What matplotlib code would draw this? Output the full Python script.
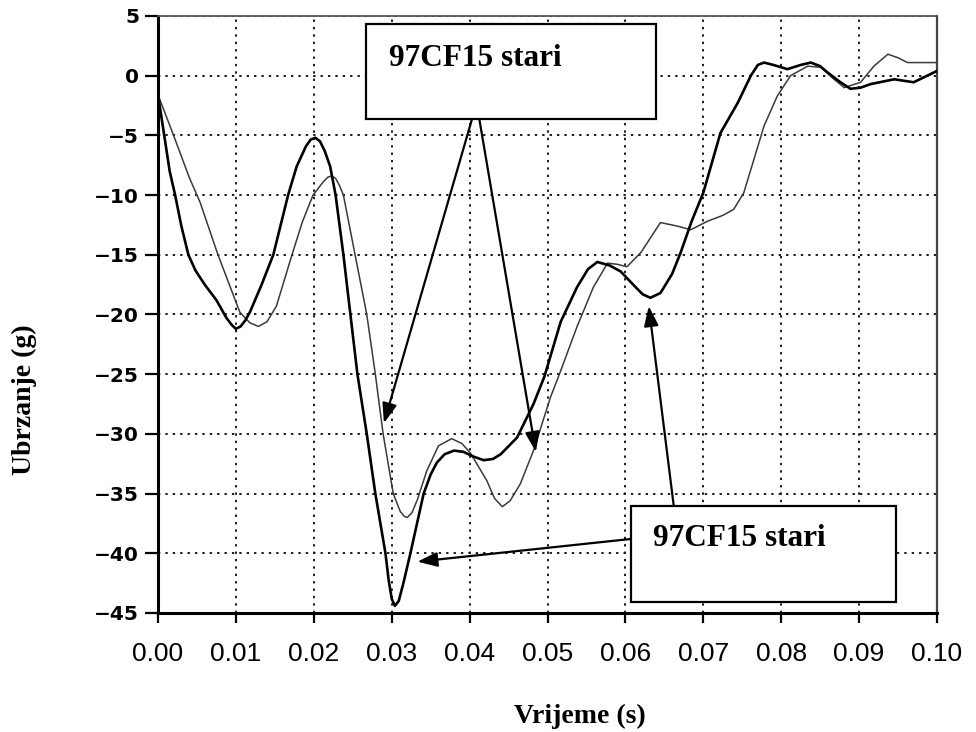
import matplotlib
matplotlib.use("Agg")
import matplotlib.pyplot as plt
from matplotlib.patches import Rectangle

# ---------------- data ----------------
t_solid = [0.0000, 0.0008, 0.0015, 0.0022, 0.0030, 0.0039, 0.0048, 0.0060, 0.0075, 0.0088,
           0.0095, 0.0100, 0.0106, 0.0112, 0.0118, 0.0133, 0.0148, 0.0167, 0.0178, 0.0190,
           0.0196, 0.0202, 0.0208, 0.0214, 0.0221, 0.0228, 0.0238, 0.0247, 0.0256, 0.0268,
           0.0279, 0.0292, 0.0296, 0.0300, 0.0304, 0.0309, 0.0315, 0.0324, 0.0341, 0.0350,
           0.0358, 0.0368, 0.0380, 0.0392, 0.0405, 0.0418, 0.0430, 0.0440, 0.0461, 0.0482,
           0.0496, 0.0517, 0.0538, 0.0552, 0.0564, 0.0580, 0.0594, 0.0610, 0.0622, 0.0632,
           0.0645, 0.0660, 0.0671, 0.0685, 0.0700, 0.0722, 0.0744, 0.0761, 0.0770, 0.0778,
           0.0790, 0.0808, 0.0825, 0.0838, 0.0850, 0.0859, 0.0875, 0.0889, 0.0902, 0.0915,
           0.0945, 0.0970, 0.1000]
a_solid = [-1.6, -5.0, -8.0, -10.0, -12.6, -15.0, -16.3, -17.5, -18.8, -20.3,
           -20.9, -21.2, -21.0, -20.5, -19.8, -17.5, -15.0, -10.0, -7.6, -5.9,
           -5.35, -5.2, -5.5, -6.3, -7.6, -10.0, -15.0, -20.0, -25.0, -30.0,
           -35.0, -40.0, -42.2, -43.8, -44.4, -44.0, -42.5, -40.0, -35.0, -33.4,
           -32.4, -31.7, -31.4, -31.5, -31.9, -32.2, -32.1, -31.7, -30.3, -27.5,
           -25.2, -20.6, -17.7, -16.2, -15.6, -15.9, -16.4, -17.5, -18.3, -18.6,
           -18.2, -16.6, -14.8, -12.2, -9.8, -4.8, -2.3, 0.0, 0.9, 1.1,
           0.9, 0.55, 0.9, 1.1, 0.8, 0.3, -0.5, -1.1, -1.0, -0.7,
           -0.3, -0.55, 0.4]

t_thin = [0.0000, 0.0020, 0.0040, 0.0054, 0.0077, 0.0105, 0.0118, 0.0129, 0.0140, 0.0152,
          0.0172, 0.0185, 0.0199, 0.0212, 0.0218, 0.0223, 0.0228, 0.0233, 0.0238, 0.0253,
          0.0268, 0.0279, 0.0289, 0.0302, 0.0311, 0.0316, 0.0320, 0.0326, 0.0333, 0.0345,
          0.0360, 0.0377, 0.0390, 0.0401, 0.0422, 0.0432, 0.0442, 0.0452, 0.0465, 0.0482,
          0.0504, 0.0517, 0.0538, 0.0559, 0.0577, 0.0590, 0.0602, 0.0620, 0.0645, 0.0667,
          0.0684, 0.0705, 0.0725, 0.0739, 0.0752, 0.0765, 0.0778, 0.0795, 0.0812, 0.0834,
          0.0851, 0.0866, 0.0881, 0.0902, 0.0919, 0.0937, 0.0950, 0.0962, 0.1000]
a_thin = [-1.6, -5.0, -8.5, -10.6, -15.0, -19.8, -20.7, -21.0, -20.6, -19.3,
          -15.0, -12.3, -10.0, -8.9, -8.5, -8.4, -8.6, -9.2, -10.0, -15.0,
          -20.0, -25.0, -30.0, -35.0, -36.5, -36.9, -37.0, -36.6, -35.5, -33.1,
          -31.0, -30.4, -30.8, -31.6, -33.9, -35.4, -36.1, -35.6, -34.2, -31.4,
          -26.9, -24.7, -21.0, -17.7, -15.7, -15.8, -16.0, -14.8, -12.3, -12.6,
          -12.9, -12.2, -11.7, -11.2, -9.8, -7.0, -4.2, -1.7, 0.0, 0.8,
          0.7, -0.2, -1.0, -0.55, 0.8, 1.8, 1.5, 1.1, 1.1]

x_ticks = [0.00, 0.01, 0.02, 0.03, 0.04, 0.05, 0.06, 0.07, 0.08, 0.09, 0.10]
x_tick_labels = ["0.00", "0.01", "0.02", "0.03", "0.04", "0.05",
                 "0.06", "0.07", "0.08", "0.09", "0.10"]
y_ticks = [5, 0, -5, -10, -15, -20, -25, -30, -35, -40, -45]
y_tick_labels = ["5", "0", "\u22125", "\u221210", "\u221215", "\u221220",
                 "\u221225", "\u221230", "\u221235", "\u221240", "\u221245"]

annotation_text = "97CF15 stari"
x_label = "Vrijeme (s)"
y_label = "Ubrzanje (g)"

# ---------------- figure ----------------
W, H = 976, 732
fig = plt.figure(figsize=(W / 100, H / 100), dpi=100)
ax = fig.add_axes([158 / W, 1 - 613 / H, (937 - 158) / W, (613 - 16) / H])

ax.set_xlim(0, 0.1)
ax.set_ylim(-45, 5)

ax.grid(True, linestyle=(0, (1.2, 2.6)), color="#1a1a1a", linewidth=1.4)
ax.set_axisbelow(True)

ax.plot(t_thin, a_thin, color="#3a3a3a", linewidth=1.1, zorder=3,
        solid_joinstyle="round")
ax.plot(t_solid, a_solid, color="black", linewidth=1.9, zorder=4,
        solid_joinstyle="round")

ax.set_xticks(x_ticks)
ax.set_xticklabels(x_tick_labels, fontsize=19, family="Liberation Sans")
ax.set_yticks(y_ticks)
ax.set_yticklabels(y_tick_labels, fontsize=14.5, family="DejaVu Sans",
                   fontweight="bold")
ax.tick_params(axis="y", direction="out", length=9.4, width=1.6, pad=4.3)
ax.tick_params(axis="x", direction="out", length=7, width=1.6, pad=14)

for side in ["left", "bottom"]:
    ax.spines[side].set_linewidth(2.2)
    ax.spines[side].set_color("black")
ax.spines["top"].set_linewidth(1.3)
ax.spines["top"].set_color("#555555")
ax.spines["right"].set_linewidth(1.6)
ax.spines["right"].set_color("#444444")

# axis titles
fig.text(580 / W, 1 - 723 / H, x_label, ha="center", va="baseline",
         fontsize=20, family="Liberation Serif", fontweight="bold")
fig.text(24 / W, 1 - 400 / H, y_label, ha="center", va="center", rotation=90,
         fontsize=20, family="Liberation Serif", fontweight="bold")

# annotation arrows
arrow_style = "-|>,head_length=0.6,head_width=0.22"
def arrow(start, tip):
    ax.annotate("", xy=tip, xytext=start,
                arrowprops=dict(arrowstyle=arrow_style, mutation_scale=20,
                                lw=1.6, color="black", shrinkA=0, shrinkB=0),
                zorder=5, annotation_clip=False)

arrow((0.0409, -2.3), (0.0290, -29.1))
arrow((0.0409, -2.3), (0.0485, -31.5))
arrow((0.0662, -36.0), (0.0630, -19.3))
arrow((0.0607, -38.8), (0.0333, -40.7))

# annotation boxes
ax.add_patch(Rectangle((0.0267, -3.66), 0.0639 - 0.0267, 4.33 + 3.66,
                       facecolor="white", edgecolor="black", linewidth=1.6,
                       zorder=6, clip_on=False))
ax.text(0.0296, 0.8, annotation_text, ha="left", va="baseline", fontsize=22.5,
        family="Liberation Serif", fontweight="bold", zorder=7)

ax.add_patch(Rectangle((0.0607, -44.07), 0.0947 - 0.0607, 44.07 - 36.0,
                       facecolor="white", edgecolor="black", linewidth=1.6,
                       zorder=6, clip_on=False))
ax.text(0.0635, -39.4, annotation_text, ha="left", va="baseline", fontsize=22.5,
        family="Liberation Serif", fontweight="bold", zorder=7)

fig.savefig("out.png", dpi=100)
